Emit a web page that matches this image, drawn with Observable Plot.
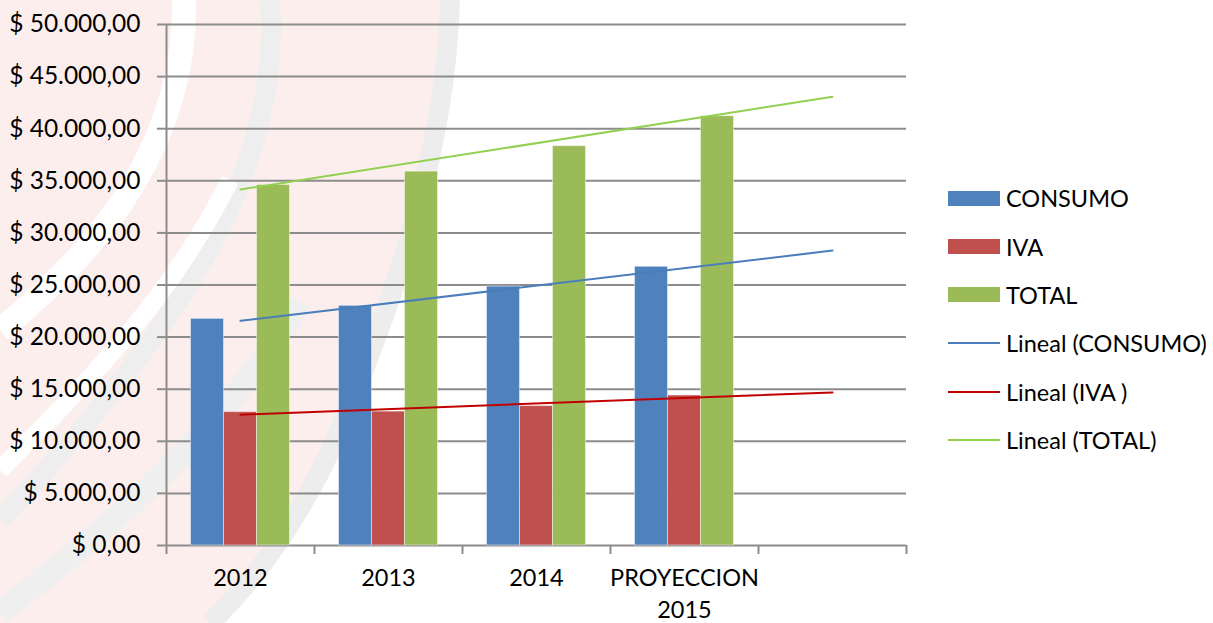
<!DOCTYPE html>
<html>
<head>
<meta charset="utf-8">
<script src="https://cdn.jsdelivr.net/npm/d3@7"></script>
<script src="https://cdn.jsdelivr.net/npm/@observablehq/plot@0.6"></script>
<style>
  html, body { margin: 0; padding: 0; background: #fff; }
  #wrap { position: relative; width: 1213px; height: 623px; overflow: hidden; font-family: Lato, "Open Sans", sans-serif; }
  #bg { position: absolute; left: 0; top: 0; }
  #chart { position: absolute; left: 0; top: 0; }
  #legend { position: absolute; left: 948px; top: 174px; }
  .row { display: flex; align-items: center; height: 48.4px; font-size: 23.5px; color: #000; white-space: pre; }
  .sw { width: 52px; height: 15px; margin-right: 6px; }
  .ln { width: 52px; height: 2px; margin-right: 6px; }
</style>
</head>
<body>
<div id="wrap">
  <svg id="bg" width="1213" height="623">
    <path d="M0,0 L458,0 C452,150 400,300 340,440 C300,530 250,590 215,623 L0,623 Z" fill="#fdeeee"/>
    <path d="M450,0 C446,150 395,300 335,440 C295,530 245,590 210,623" fill="none" stroke="#ededed" stroke-width="20"/>
    <path d="M184,0 C186,120 126,230 0,330" fill="none" stroke="#ffffff" stroke-width="24"/>
    <path d="M270,0 C283,170 180,330 0,520" fill="none" stroke="#eeeeee" stroke-width="20"/>
    <path d="M0,470 C90,380 170,300 230,180" fill="none" stroke="#ffffff" stroke-width="18"/>
    <path d="M0,612 C120,522 230,422 300,302" fill="none" stroke="#efefef" stroke-width="24"/>
  </svg>
  <div id="chart"></div>
  <div id="legend"></div>
</div>
<script>
// ---- data ----
const periods = ["2012", "2013", "2014", "PROYECCION\n2015"];
const forecastSlot = ""; // one forecast period for the linear trend lines
const consumo = [21750, 23000, 24850, 26750];
const iva = [12800, 12850, 13380, 14400];
const total = [34600, 35880, 38320, 41200];
const seriesNames = ["CONSUMO", "IVA", "TOTAL"];
const trendNames = ["Lineal (CONSUMO)", "Lineal (IVA )", "Lineal (TOTAL)"];
const yTicks = [0, 5000, 10000, 15000, 20000, 25000, 30000, 35000, 40000, 45000, 50000];

// ---- styling ----
const barColors = ["#4F81BD", "#C0504D", "#9BBB59"];
const trendColors = ["#4A7EBB", "#C00000", "#92D050"];
const gridColor = "#8c8c8c";

const categories = [...periods, forecastSlot];
const seriesValues = [consumo, iva, total];

const W = 930, H = 623, mL = 166, mR = 24, mT = 24, mB = 78;
const bw = (W - mL - mR) / categories.length;
const plotH = H - mT - mB;

const locale = d3.formatLocale({decimal: ",", thousands: ".", grouping: [3], currency: ["$ ", ""]});
const fmt = locale.format("$,.2f");

// bar rows per series
const barRows = seriesValues.map(vals => periods.map((p, i) => ({cat: p, value: vals[i]})));

// least-squares linear trend, extended one period forward
function trendRows(vals) {
  const xs = vals.map((_, i) => i + 1);
  const mx = d3.mean(xs), my = d3.mean(vals);
  const b = d3.sum(xs, (x, i) => (x - mx) * (vals[i] - my)) / d3.sum(xs, x => (x - mx) ** 2);
  const a = my - b * mx;
  return [1, categories.length].map(x => ({cat: categories[x - 1], value: a + b * x}));
}

const barW = 33;
const groupStart = (bw - 3 * barW) / 2;

const marks = [
  Plot.gridY(yTicks, {stroke: gridColor, strokeOpacity: 1, strokeWidth: 2}),
  Plot.axisY({ticks: yTicks, tickFormat: fmt, tickSize: 9, tickPadding: 17, stroke: gridColor, strokeWidth: 2, strokeOpacity: 1, fill: "#000", label: null, fontSize: 24.5}),
  ...barRows.map((rows, k) => Plot.barY(rows, {
    x: "cat", y: "value", fill: barColors[k],
    insetLeft: groupStart + k * barW, insetRight: bw - groupStart - (k + 1) * barW,
    stroke: "#ffffff", strokeOpacity: 0.45, strokeWidth: 1
  })),
  // y axis line and category boundary ticks
  Plot.ruleX([categories[0]], {x: d => d, dx: -bw / 2, stroke: gridColor, strokeWidth: 2, insetBottom: -9}),
  Plot.ruleX(categories.slice(1), {x: d => d, dx: -bw / 2, stroke: gridColor, strokeWidth: 2, insetTop: plotH, insetBottom: -9}),
  Plot.ruleX([categories[categories.length - 1]], {x: d => d, dx: bw / 2, stroke: gridColor, strokeWidth: 2, insetTop: plotH, insetBottom: -9}),
  ...seriesValues.map((vals, k) => Plot.line(trendRows(vals), {x: "cat", y: "value", stroke: trendColors[k], strokeWidth: 2})),
  Plot.axisX({tickSize: 0, tickPadding: 18, lineHeight: 1.36, fill: "#000", label: null, fontSize: 23.5})
];

const chart = Plot.plot({
  width: W, height: H,
  marginLeft: mL, marginRight: mR, marginTop: mT, marginBottom: mB,
  x: {type: "band", domain: categories, padding: 0},
  y: {domain: [0, 50000]},
  style: {fontFamily: "Lato, 'Open Sans', sans-serif", fontSize: "23.5px", color: "#000", background: "transparent", overflow: "visible"},
  marks
});
document.getElementById("chart").appendChild(chart);

// legend
const legend = document.getElementById("legend");
seriesNames.forEach((n, k) => {
  const r = document.createElement("div"); r.className = "row";
  r.innerHTML = `<div class="sw" style="background:${barColors[k]}"></div><span></span>`;
  r.querySelector("span").textContent = n;
  legend.appendChild(r);
});
trendNames.forEach((n, k) => {
  const r = document.createElement("div"); r.className = "row";
  r.innerHTML = `<div class="ln" style="background:${trendColors[k]}"></div><span></span>`;
  r.querySelector("span").textContent = n;
  legend.appendChild(r);
});
</script>
</body>
</html>
